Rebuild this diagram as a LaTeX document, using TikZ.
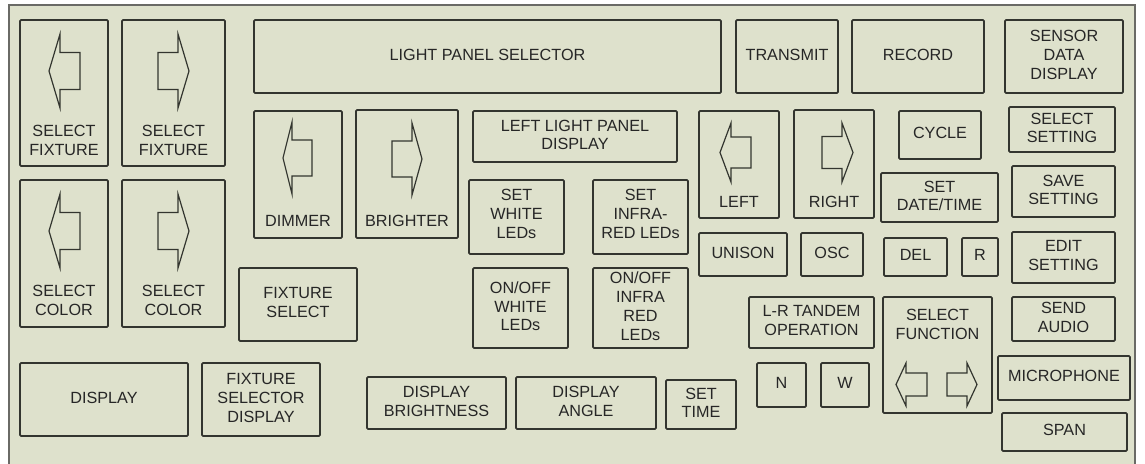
\documentclass[tikz,border=0pt]{standalone}
\usepackage{fontspec}
\setmainfont{Liberation Sans}
\definecolor{panelfill}{HTML}{DEE1CC}
\definecolor{panelline}{HTML}{6A6A66}
\definecolor{boxline}{HTML}{33352F}
\definecolor{txt}{HTML}{262626}
\tikzset{
  panel/.style={draw=panelline, line width=1.6pt, fill=panelfill, inner sep=0pt, outer sep=0pt},
  btn/.style={draw=boxline, line width=1.8pt, rounded corners=1.2pt, inner sep=0pt, outer sep=0pt},
  lbl/.style={text=txt, align=center, inner sep=0pt, font=\fontsize{16.2}{18.8}\selectfont},
  arr/.style={draw=boxline, line width=1.2pt, line join=miter}
}
\newcommand\btn[5]{\node[btn, anchor=north west, minimum width={(#4-#2)*1pt}, minimum height={(#5-#3)*1pt}] (#1) at (#2,#3) {};}
\newcommand\ctxt[2]{\node[lbl] (#1-t) at ([yshift=1.6pt]#1.center) {#2};}
% left arrow: tip x, base x, end x, cy, head half, shaft half
\newcommand\larrow[6]{\draw[arr] (#3,#4-#6) -- (#2,#4-#6) -- (#2,#4-#5) -- (#1,#4) -- (#2,#4+#5) -- (#2,#4+#6) -- (#3,#4+#6) -- cycle;}
% right arrow: tail x, base x, tip x, cy, head half, shaft half
\newcommand\rarrow[6]{\draw[arr] (#1,#4-#6) -- (#2,#4-#6) -- (#2,#4-#5) -- (#3,#4) -- (#2,#4+#5) -- (#2,#4+#6) -- (#1,#4+#6) -- cycle;}
\begin{document}
\begin{tikzpicture}[x=1pt,y=-1pt]
\useasboundingbox (0,0) rectangle (1145,463);
\clip (0,0) rectangle (1145,463);
\fill[white] (0,0) rectangle (1145,463);
\node[panel, anchor=north west, minimum width=1126pt, minimum height=480pt] (panel) at (9,5) {};

% left column
\btn{sfl}{20}{20}{108}{166}
\node[lbl] (sfl-t) at (64,140.5) {SELECT\\FIXTURE};
\larrow{49}{60}{80}{71}{37}{18.5}
\btn{sfr}{122}{20}{225}{166}
\node[lbl] (sfr-t) at (173.5,140.5) {SELECT\\FIXTURE};
\rarrow{158}{178}{189}{71}{37}{18.5}
\btn{scl}{20}{180}{108}{327}
\node[lbl] (scl-t) at (64,300.5) {SELECT\\COLOR};
\larrow{49}{60}{80}{231}{37}{18.5}
\btn{scr}{122}{180}{225}{327}
\node[lbl] (scr-t) at (173.5,300.5) {SELECT\\COLOR};
\rarrow{158}{178}{189}{231}{37}{18.5}
\btn{disp}{20}{363}{188}{436}\ctxt{disp}{DISPLAY}
\btn{fsd}{202}{363}{320}{436}\ctxt{fsd}{FIXTURE\\SELECTOR\\DISPLAY}

% dimmer / brighter
\btn{dim}{254}{111}{342}{238}
\node[lbl] (dim-t) at (298,221) {DIMMER};
\larrow{283}{292}{312}{158}{36}{18}
\btn{bri}{356}{110}{458}{238}
\node[lbl] (bri-t) at (407,221) {BRIGHTER};
\rarrow{392}{412}{422}{159}{36}{18}
\btn{fsel}{239}{268}{357}{341}\ctxt{fsel}{FIXTURE\\SELECT}

% top row
\btn{lps}{254}{20}{721}{93}\ctxt{lps}{LIGHT PANEL SELECTOR}
\btn{tra}{736}{20}{838}{93}\ctxt{tra}{TRANSMIT}
\btn{rec}{852}{20}{984}{93}\ctxt{rec}{RECORD}
\btn{sdd}{1005}{20}{1123}{93}\ctxt{sdd}{SENSOR\\DATA\\DISPLAY}

% middle
\btn{llpd}{473}{111}{677}{162}\ctxt{llpd}{LEFT LIGHT PANEL\\DISPLAY}
\btn{swl}{469}{180}{564}{254}
\node[lbl] (swl-t) at (516.5,214) {SET\\WHITE\\LEDs};
\btn{sirl}{593}{180}{688}{254}
\node[lbl] (sirl-t) at (640.5,214) {SET\\INFRA-\\RED LEDs};
\btn{owl}{473}{268}{568}{348}\ctxt{owl}{ON/OFF\\WHITE\\LEDs}
\btn{oirl}{593}{268}{688}{348}\ctxt{oirl}{ON/OFF\\INFRA\\RED\\LEDs}
\btn{dbr}{367}{377}{506}{429}\ctxt{dbr}{DISPLAY\\BRIGHTNESS}
\btn{dang}{516}{377}{656}{429}\ctxt{dang}{DISPLAY\\ANGLE}
\btn{stime}{666}{380}{736}{429}\ctxt{stime}{SET\\TIME}

% left / right
\btn{lft}{699}{111}{779}{218}
\node[lbl] (lft-t) at (739,202) {LEFT};
\larrow{720}{731}{751}{152.5}{29.5}{15.5}
\btn{rgt}{794}{110}{874}{218}
\node[lbl] (rgt-t) at (834,202) {RIGHT};
\rarrow{822}{842}{853}{152.5}{29.5}{16}
\btn{uni}{699}{233}{787}{276}\ctxt{uni}{UNISON}
\btn{osc}{801}{233}{863}{276}\ctxt{osc}{OSC}
\btn{lrt}{749}{297}{874}{348}\ctxt{lrt}{L-R TANDEM\\OPERATION}
\btn{nb}{757}{363}{806}{407}\ctxt{nb}{N}
\btn{wb}{821}{363}{869}{407}\ctxt{wb}{W}

% right-middle
\btn{cyc}{899}{111}{981}{159}\ctxt{cyc}{CYCLE}
\btn{sdt}{881}{173}{998}{222}\ctxt{sdt}{SET\\DATE/TIME}
\btn{del}{884}{238}{947}{276}\ctxt{del}{DEL}
\btn{rb}{962}{238}{998}{276}\ctxt{rb}{R}
\btn{sfun}{883}{297}{992}{413}
\node[lbl] (sfun-t) at (937.5,324.5) {SELECT\\FUNCTION};
\larrow{896}{906}{927}{384.5}{21.5}{11.5}
\rarrow{947}{967}{977}{384.5}{21.5}{11.5}

% right column
\btn{sset}{1009}{107}{1115}{152}\ctxt{sset}{SELECT\\SETTING}
\btn{svset}{1012}{166}{1115}{217}\ctxt{svset}{SAVE\\SETTING}
\btn{edset}{1012}{232}{1115}{283}\ctxt{edset}{EDIT\\SETTING}
\btn{saud}{1012}{297}{1115}{341}\ctxt{saud}{SEND\\AUDIO}
\btn{mic}{998}{356}{1130}{400}\ctxt{mic}{MICROPHONE}
\btn{span}{1002}{413}{1127}{451}\ctxt{span}{SPAN}
\end{tikzpicture}
\end{document}
